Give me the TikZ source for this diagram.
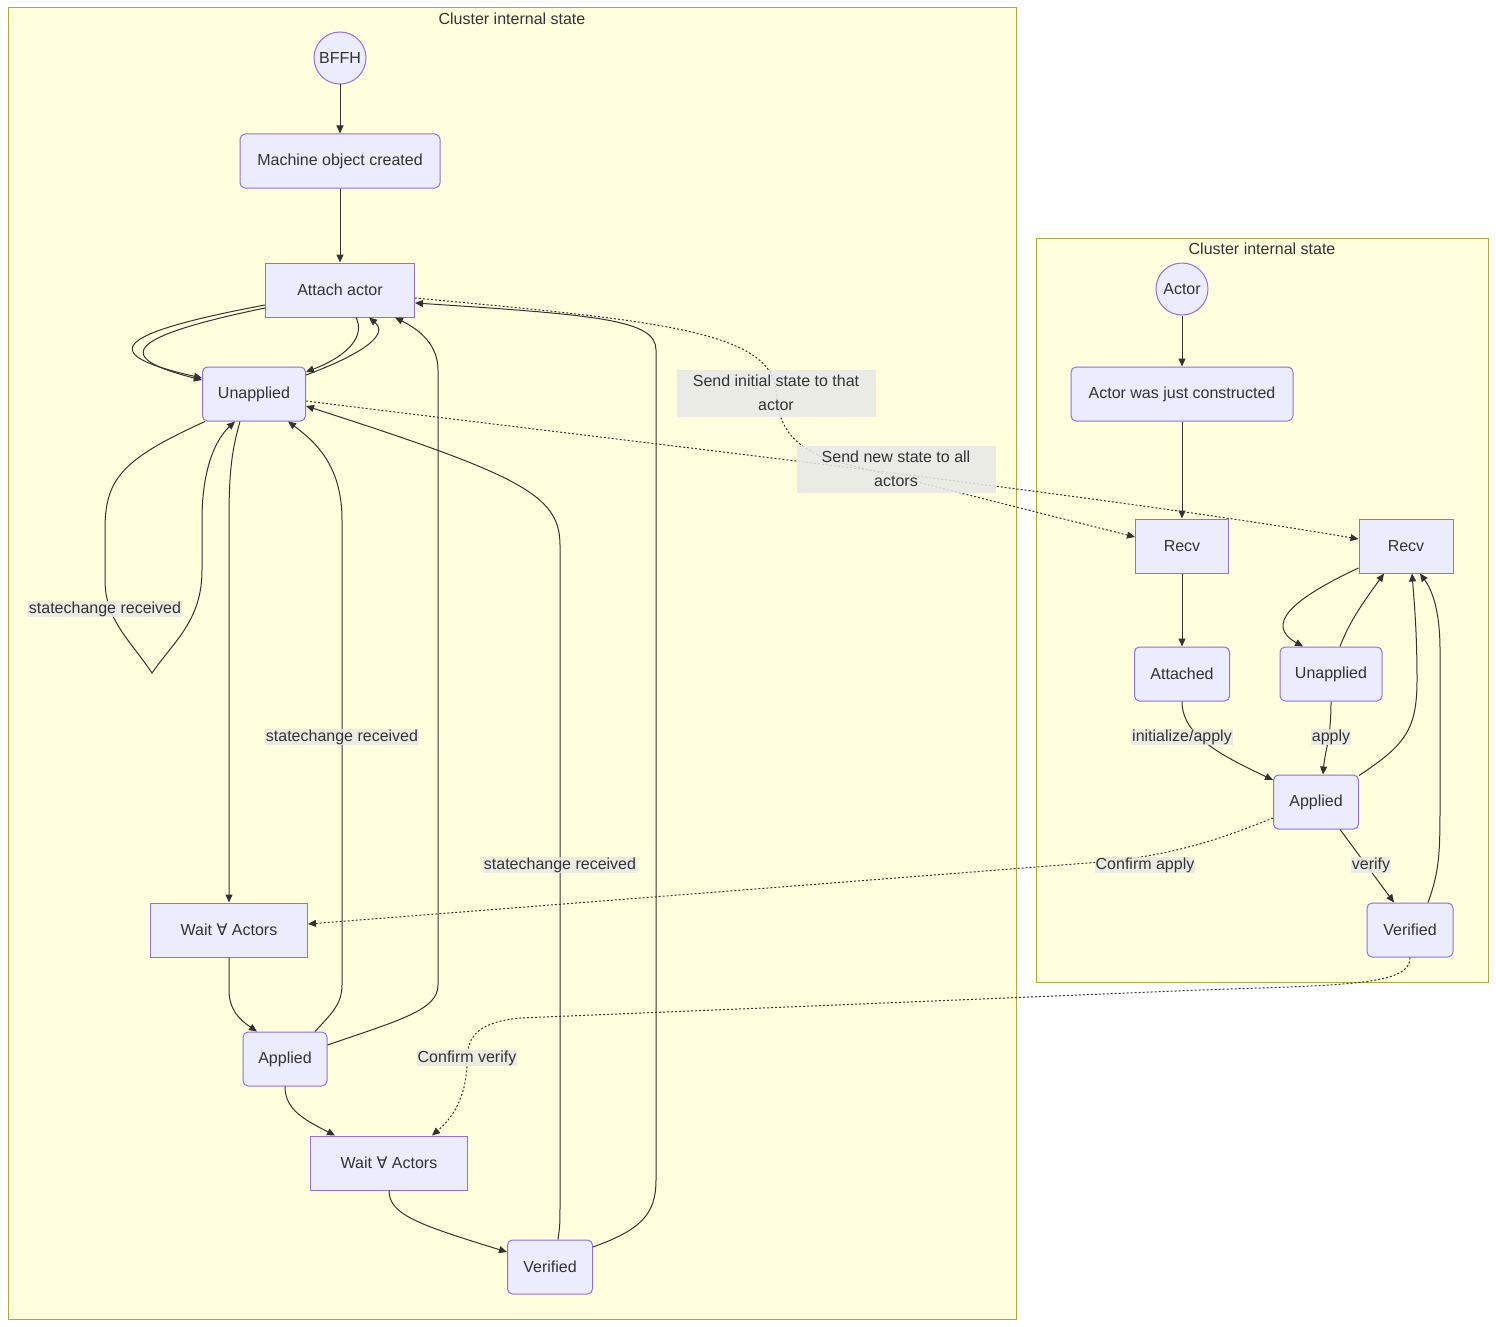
\documentclass[tikz,border=0pt]{standalone}
\usepackage{fontspec}
\setmainfont{Liberation Sans}
\newfontfamily\djv{DejaVu Sans}
\usetikzlibrary{arrows.meta,calc}
\definecolor{nodefill}{HTML}{ECECFF}
\definecolor{nodeline}{HTML}{9370DB}
\definecolor{clfill}{HTML}{FFFFDE}
\definecolor{clline}{HTML}{AAAA33}
\definecolor{edgecol}{HTML}{333333}
\definecolor{lblfill}{HTML}{E8E8E8}
\tikzset{
  base/.style={draw=nodeline, fill=nodefill, line width=1pt, text=edgecol,
    font=\fontsize{16}{19}\selectfont, inner sep=0pt, minimum height=54pt},
  statebox/.style={base, rounded corners=5pt},
  sharpbox/.style={base},
  startcirc/.style={base, circle, minimum size=52pt},
  cluster/.style={draw=clline, fill=clfill, line width=1pt},
  cltitle/.style={text=edgecol, font=\fontsize{16}{19}\selectfont},
  edge/.style={draw=edgecol, line width=1pt, -{Triangle[length=8pt,width=7pt]}},
  dedge/.style={edge, dash pattern=on 2pt off 2pt},
  lbl/.style={fill=lblfill, fill opacity=0.85, text opacity=1, text=edgecol,
    font=\fontsize{16}{24}\selectfont, inner sep=1pt, align=center}
}
\begin{document}
\begin{tikzpicture}[x=1pt,y=-1pt]
\useasboundingbox (0,0) rectangle (1496,1327);
\fill[white] (0,0) rectangle (1496,1327);
% clusters
\draw[cluster] (8,8) rectangle (1016,1319);
\node[cltitle] (t1) at (512,19) {Cluster internal state};
\draw[cluster] (1036,238) rectangle (1488,982);
\node[cltitle] (t2) at (1262,249) {Cluster internal state};

% left nodes
\node[startcirc] (bffh) at (340,58) {BFFH};
\node[statebox, minimum width=200pt] (mach) at (340,161) {Machine object created};
\node[sharpbox, minimum width=149pt] (attach) at (340,290) {Attach actor};
\node[statebox, minimum width=103pt] (un) at (254,394) {Unapplied};
\node[sharpbox, minimum width=157pt] (w1) at (229,930) {Wait {\djv ∀} Actors};
\node[statebox, minimum width=84pt] (appl) at (285,1059) {Applied};
\node[sharpbox, minimum width=157pt] (w2) at (389,1163) {Wait {\djv ∀} Actors};
\node[statebox, minimum width=85pt] (ver) at (550,1267) {Verified};

% right nodes
\node[startcirc] (actor) at (1182,289) {Actor};
\node[statebox, minimum width=222pt] (constr) at (1182,394) {Actor was just constructed};
\node[sharpbox, minimum width=93pt] (r1) at (1182,546) {Recv};
\node[sharpbox, minimum width=94pt] (r2) at (1406,546) {Recv};
\node[statebox, minimum width=95pt] (att) at (1182,674) {Attached};
\node[statebox, minimum width=102pt] (unR) at (1331,674) {Unapplied};
\node[statebox, minimum width=85pt] (applR) at (1316,802) {Applied};
\node[statebox, minimum width=86pt] (verR) at (1410,930) {Verified};

% left edges
\draw[edge] (bffh) -- (mach);
\draw[edge] (mach) -- (attach);
\draw[edge] ([yshift=-15pt]attach.west) .. controls (105,335) and (100,355) .. ([yshift=16pt]un.west);
\draw[edge] ([yshift=-18pt]attach.west) .. controls (120,338) and (115,358) .. ([yshift=14pt]un.west);
\draw[edge] ([xshift=16pt]attach.south) .. controls (365,335) and (350,355) .. ([yshift=22pt]un.east);
\draw[edge] ([yshift=19pt]un.east) .. controls (360,355) and (390,335) .. ([xshift=29pt]attach.south);
\draw[edge] ([xshift=-49pt]un.south) .. controls (120,460) and (105,480) .. (105,530) -- (105,580)
   .. controls (105,620) and (130,640) .. (152,673) .. controls (175,640) and (202,620) .. (202,570)
   -- (202,520) .. controls (202,470) and (215,440) .. ([xshift=-19pt]un.south);
\draw[edge] ([xshift=-14pt]un.south) .. controls (232,450) and (229,470) .. (229,520) -- (w1.north);
\draw[edge] (w1.south) -- (229,990) .. controls (229,1010) and (240,1020) .. ([xshift=-28pt]appl.north);
\draw[edge] ([xshift=30pt]appl.north) .. controls (330,1015) and (342,1005) .. (342,985) -- (342,520)
   .. controls (342,470) and (320,445) .. ([xshift=34pt]un.south);
\draw[edge] ([yshift=14pt]appl.east) .. controls (400,1020) and (438,1010) .. (438,985) -- (438,370)
   .. controls (438,345) and (420,330) .. ([xshift=55pt]attach.south);
\draw[edge] (appl.south) .. controls (285,1110) and (305,1120) .. ([xshift=-54pt]w2.north);
\draw[edge] (w2.south) .. controls (389,1215) and (420,1225) .. ([yshift=15pt]ver.west);
\draw[edge] ([xshift=8pt]ver.north) .. controls (560,1225) and (560,1225) .. (560,1200) -- (560,545)
   .. controls (560,495) and (520,475) .. ([yshift=-12pt]un.east);
\draw[edge] ([yshift=20pt]ver.east) .. controls (640,1230) and (656,1215) .. (656,1180) -- (656,350)
   .. controls (656,320) and (600,315) .. ([yshift=-13pt]attach.east);
% dotted long edges
\draw[dedge] ([yshift=-8pt]attach.east) .. controls (650,320) and (770,330) .. (776,390)
   .. controls (778,425) and (790,445) .. (830,460) -- ([yshift=9pt]r1.west);
\draw[dedge] ([yshift=-7pt]un.east) .. controls (700,450) and (1100,495) .. ([yshift=7pt]r2.west);

% right edges
\draw[edge] (actor) -- (constr);
\draw[edge] (constr) -- (r1);
\draw[edge] (r1) -- (att);
\draw[edge] (att.south) .. controls (1182,735) and (1220,755) .. ([yshift=22pt]applR.west);
\draw[edge] ([yshift=-22pt]r2.west) .. controls (1290,600) and (1265,625) .. ([xshift=-28pt]unR.north);
\draw[edge] ([xshift=9pt]unR.north) .. controls (1350,620) and (1365,600) .. ([xshift=-22pt]r2.south);
\draw[edge] (unR.south) .. controls (1331,740) and (1325,750) .. ([xshift=7pt]applR.north);
\draw[edge] ([xshift=43pt,yshift=-1pt]applR.north) .. controls (1405,745) and (1417,730) .. (1417,680)
   .. controls (1417,630) and (1414,600) .. ([xshift=6pt]r2.south);
\draw[edge] ([xshift=24pt]applR.south) -- ([xshift=-16pt]verR.north);
\draw[edge] ([xshift=18pt]verR.north) .. controls (1440,870) and (1440,850) .. (1440,800) -- (1440,650)
   .. controls (1440,610) and (1432,590) .. ([xshift=14pt]r2.south);
\draw[dedge] ([yshift=-16pt]applR.west) .. controls (1230,835) and (1180,855) .. (1100,862) -- ([yshift=6pt]w1.east);
\draw[dedge] (verR.south) .. controls (1410,985) and (1350,985) .. (1200,990) -- (520,1018)
   .. controls (480,1022) and (467,1035) .. (467,1060) .. controls (467,1100) and (450,1120) .. ([xshift=43pt]w2.north);

% labels
\node[lbl, minimum width=199pt, minimum height=47pt] (l1) at (776,393) {Send initial state to that\\actor};
\node[lbl, minimum width=199pt, minimum height=47pt] (l2) at (896,469) {Send new state to all\\actors};
\node[lbl] (l3) at (105,609) {statechange received};
\node[lbl] (l4) at (342,737) {statechange received};
\node[lbl] (l5) at (560,865) {statechange received};
\node[lbl] (l6) at (1182,737) {initialize/apply};
\node[lbl] (l7) at (1331,737) {apply};
\node[lbl] (l8) at (1145,865) {Confirm apply};
\node[lbl] (l9) at (1371,865) {verify};
\node[lbl] (l10) at (467,1058) {Confirm verify};
\end{tikzpicture}
\end{document}
